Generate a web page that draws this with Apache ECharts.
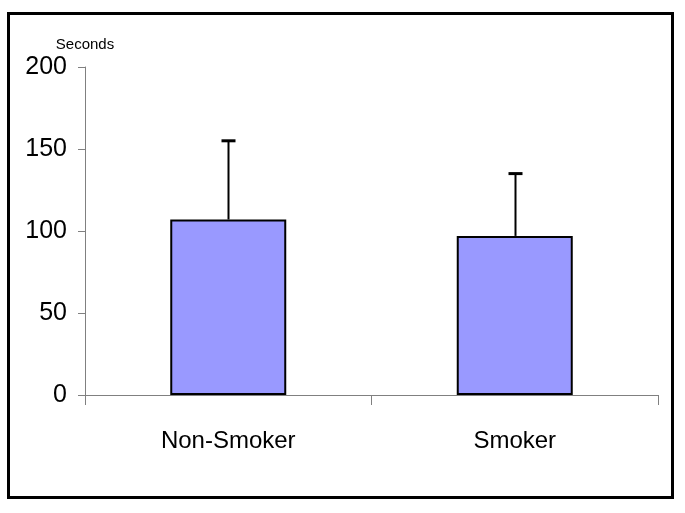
<!DOCTYPE html>
<html>
<head>
<meta charset="utf-8">
<script src="https://cdn.jsdelivr.net/npm/echarts@6/dist/echarts.min.js"></script>
<style>
html,body{margin:0;padding:0;background:#fff;}
#chart{width:685px;height:513px;}
</style>
</head>
<body>
<div id="chart"></div>
<script>
var categories = ['Non-Smoker', 'Smoker'];
var meanValues = [107, 97];
var errorUpper = [155, 135];
var yTicks = [0, 50, 100, 150, 200];
var yAxisName = 'Seconds';

var FONT = '"Liberation Sans", Arial, sans-serif';

var chart = echarts.init(document.getElementById('chart'), null, {renderer: 'canvas'});

var option = {
  backgroundColor: '#ffffff',
  animation: false,
  graphic: [{
    type: 'rect',
    shape: {x: 8.5, y: 13.5, width: 664, height: 484},
    style: {fill: 'none', stroke: '#000000', lineWidth: 3},
    silent: true,
    z: 100
  }],
  grid: {left: 85, right: 27, top: 67, bottom: 118, containLabel: false},
  xAxis: {
    type: 'category',
    data: categories,
    boundaryGap: true,
    axisLine: {show: true, lineStyle: {color: '#808080', width: 1}},
    axisTick: {show: true, length: 10, alignWithLabel: false, lineStyle: {color: '#808080', width: 1}},
    axisLabel: {color: '#000000', fontFamily: FONT, fontSize: 24, margin: 34},
    splitLine: {show: false}
  },
  yAxis: {
    type: 'value',
    min: yTicks[0],
    max: yTicks[yTicks.length - 1],
    interval: yTicks[1] - yTicks[0],
    name: yAxisName,
    nameLocation: 'end',
    nameGap: 15,
    nameTextStyle: {color: '#000000', fontFamily: FONT, fontSize: 15},
    axisLine: {show: true, lineStyle: {color: '#808080', width: 1}},
    axisTick: {show: true, length: 7, inside: false, lineStyle: {color: '#808080', width: 1}},
    axisLabel: {color: '#000000', fontFamily: FONT, fontSize: 25, margin: 18},
    splitLine: {show: false}
  },
  series: [{
    type: 'bar',
    data: meanValues,
    barWidth: 116,
    itemStyle: {color: '#9999ff', borderColor: '#000000', borderWidth: 2},
    z: 2
  }, {
    type: 'custom',
    data: categories.map(function (c, i) { return [i, meanValues[i], errorUpper[i]]; }),
    renderItem: function (params, api) {
      var base = api.coord([api.value(0), api.value(1)]);
      var top = api.coord([api.value(0), api.value(2)]);
      var x = Math.round(base[0]) + 0.5;
      var halfCap = 7;
      return {
        type: 'group',
        children: [{
          type: 'line',
          shape: {x1: x, y1: base[1], x2: x, y2: top[1]},
          style: {stroke: '#000000', lineWidth: 2}
        }, {
          type: 'line',
          shape: {x1: x - halfCap, y1: top[1], x2: x + halfCap, y2: top[1]},
          style: {stroke: '#000000', lineWidth: 3}
        }]
      };
    },
    z: 3
  }]
};

chart.setOption(option);
</script>
</body>
</html>
